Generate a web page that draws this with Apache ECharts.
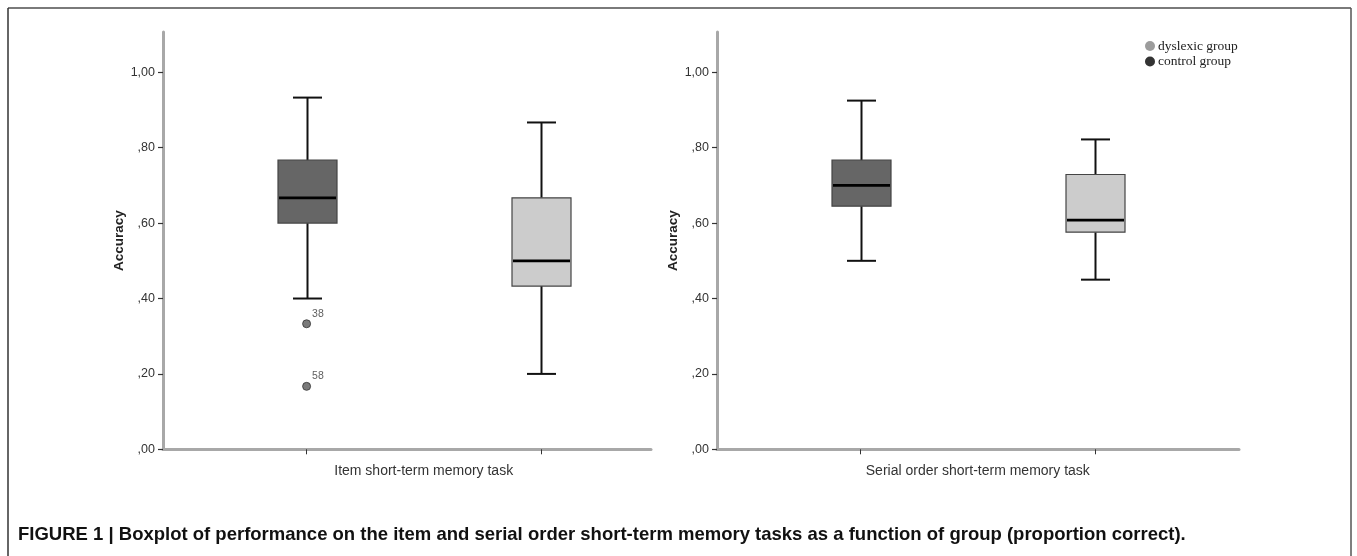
<!DOCTYPE html>
<html><head><meta charset="utf-8">
<script src="https://cdn.jsdelivr.net/npm/echarts@6/dist/echarts.min.js"></script>
<style>html,body{margin:0;padding:0;background:#fff}#c{width:1357px;height:556px}</style>
</head><body><div id="c"></div><script>
// ---- data ----
const groups = ['control group', 'dyslexic group'];
const panelTitles = ['Item short-term memory task', 'Serial order short-term memory task'];
// [lower whisker, Q1, median, Q3, upper whisker]
const itemControl = [0.40, 0.60, 0.667, 0.767, 0.933];
const itemDyslexic = [0.20, 0.433, 0.50, 0.667, 0.867];
const serialControl = [0.50, 0.645, 0.70, 0.767, 0.925];
const serialDyslexic = [0.45, 0.576, 0.608, 0.729, 0.822];
const itemOutlierValues = [0.333, 0.167];
const itemOutlierLabels = ['38', '58'];
const yTicks = [0, 0.2, 0.4, 0.6, 0.8, 1.0];
const yTickLabels = [',00', ',20', ',40', ',60', ',80', '1,00'];
const yMax = 1.107;
const legendNames = ['dyslexic group', 'control group'];
const caption = 'FIGURE 1 | Boxplot of performance on the item and serial order short-term memory tasks as a function of group (proportion correct).';

// ---- styles ----
const AXIS_GRAY = '#a8a8a8';
const FONT = '"Liberation Sans", Arial, sans-serif';
const COLORS = {'control group': '#666666', 'dyslexic group': '#cccccc'};
const LEGEND_COLORS = {'dyslexic group': '#9c9c9c', 'control group': '#333333'};
const BOX_W = 59, CAP_W = 29;

const chart = echarts.init(document.getElementById('c'), null, {renderer: 'canvas'});

function labelFor(v) {
  const i = yTicks.findIndex(t => Math.abs(t - v) < 1e-6);
  return i >= 0 ? yTickLabels[i] : '';
}

function renderBox(params, api) {
  const xi = api.value(0);
  const pt = d => api.coord([xi, api.value(d)]);
  const lo = pt(1), q1 = pt(2), md = pt(3), q3 = pt(4), hi = pt(5);
  const cx = Math.round(lo[0]) + 0.5;
  const color = api.visual('color');
  const ws = {stroke: '#111', lineWidth: 2};
  return {
    type: 'group',
    children: [
      {type: 'line', shape: {x1: cx, y1: hi[1], x2: cx, y2: q3[1]}, style: ws},
      {type: 'line', shape: {x1: cx, y1: q1[1], x2: cx, y2: lo[1]}, style: ws},
      {type: 'line', shape: {x1: cx - CAP_W / 2, y1: hi[1], x2: cx + CAP_W / 2, y2: hi[1]}, style: ws},
      {type: 'line', shape: {x1: cx - CAP_W / 2, y1: lo[1], x2: cx + CAP_W / 2, y2: lo[1]}, style: ws},
      {type: 'rect', shape: {x: cx - BOX_W / 2, y: q3[1], width: BOX_W, height: q1[1] - q3[1]},
        style: {fill: color, stroke: '#444', lineWidth: 1.2}},
      {type: 'line', shape: {x1: cx - BOX_W / 2 + 1, y1: md[1], x2: cx + BOX_W / 2 - 1, y2: md[1]},
        style: {stroke: '#000', lineWidth: 2.8}}
    ]
  };
}

const gridTop = 32, gridH = 417.3;
const grids = [
  {left: 163, top: gridTop, width: 488, height: gridH},
  {left: 189.5, top: gridTop, width: 468.4, height: gridH},
  {left: 717, top: gridTop, width: 522, height: gridH},
  {left: 743.3, top: gridTop, width: 469, height: gridH}
];

function frameX(g) {
  return {type: 'value', gridIndex: g, min: 0, max: 1,
    axisLine: {show: true, lineStyle: {color: AXIS_GRAY, width: 3}},
    axisTick: {show: false}, axisLabel: {show: false}, splitLine: {show: false}};
}
function boxX(g, title) {
  return {type: 'category', gridIndex: g, data: groups, boundaryGap: true,
    axisLine: {show: false},
    axisTick: {show: true, alignWithLabel: true, length: 5, lineStyle: {color: '#333', width: 1}},
    axisLabel: {show: false}, splitLine: {show: false},
    name: title, nameLocation: 'middle', nameGap: 15,
    nameTextStyle: {fontFamily: FONT, fontSize: 14, color: '#333'}};
}
function frameY(g) {
  return {type: 'value', gridIndex: g, min: 0, max: yMax, interval: 0.2,
    axisLine: {show: true, lineStyle: {color: AXIS_GRAY, width: 3}},
    axisTick: {show: true, length: 5, customValues: yTicks, lineStyle: {color: '#333', width: 1.2}},
    axisLabel: {show: true, customValues: yTicks, formatter: labelFor, margin: 8,
      fontFamily: FONT, fontSize: 12.5, color: '#333'},
    splitLine: {show: false},
    name: 'Accuracy', nameLocation: 'middle', nameGap: 36,
    nameTextStyle: {fontFamily: FONT, fontSize: 13.5, fontWeight: 'bold', color: '#222'}};
}
function boxY(g) {
  return {type: 'value', gridIndex: g, min: 0, max: yMax, show: false, splitLine: {show: false}};
}

function boxSeries(name, axisIdx, catIdx, vals) {
  return {type: 'custom', name: name, xAxisIndex: axisIdx, yAxisIndex: axisIdx,
    renderItem: renderBox, itemStyle: {color: COLORS[name]},
    encode: {x: 0, y: [1, 2, 3, 4, 5]},
    data: [[catIdx].concat(vals)], silent: true, z: 3};
}

const option = {
  backgroundColor: '#fff',
  animation: false,
  grid: grids,
  xAxis: [frameX(0), boxX(1, panelTitles[0]), frameX(2), boxX(3, panelTitles[1])],
  yAxis: [frameY(0), boxY(1), frameY(2), boxY(3)],
  legend: {
    data: legendNames.map(n => ({name: n, itemStyle: {color: LEGEND_COLORS[n]}})),
    orient: 'vertical', left: 1140, top: 34, padding: 5, icon: 'circle',
    itemWidth: 10, itemHeight: 10, itemGap: 1.5, selectedMode: false,
    textStyle: {fontFamily: '"Liberation Serif", "Times New Roman", serif', fontSize: 13.5, color: '#222', padding: [0, 0, 0, -2]}
  },
  series: [
    boxSeries('control group', 1, 0, itemControl),
    boxSeries('dyslexic group', 1, 1, itemDyslexic),
    boxSeries('control group', 3, 0, serialControl),
    boxSeries('dyslexic group', 3, 1, serialDyslexic),
    {type: 'scatter', name: 'control group', xAxisIndex: 1, yAxisIndex: 1,
      symbol: 'circle', symbolSize: 8,
      itemStyle: {color: '#595959', borderColor: '#333', borderWidth: 1},
      data: itemOutlierValues.map((v, i) => ({value: [0, v], label: {formatter: itemOutlierLabels[i]}})),
      label: {show: true, position: [10, -11], fontFamily: FONT, fontSize: 10.5, color: '#333'},
      silent: true, z: 4}
  ],
  graphic: [
    {type: 'line', shape: {x1: 8, y1: 8, x2: 1351, y2: 8}, style: {stroke: '#7a7a7a', lineWidth: 2}},
    {type: 'line', shape: {x1: 8, y1: 8, x2: 8, y2: 556}, style: {stroke: '#333', lineWidth: 1.5}},
    {type: 'line', shape: {x1: 1351, y1: 8, x2: 1351, y2: 556}, style: {stroke: '#555', lineWidth: 1.5}},
    {type: 'text', left: 18, top: 525,
      style: {text: caption, font: 'bold 18.5px "Liberation Sans", Arial, sans-serif', fill: '#111'}}
  ]
};
chart.setOption(option);
</script></body></html>
